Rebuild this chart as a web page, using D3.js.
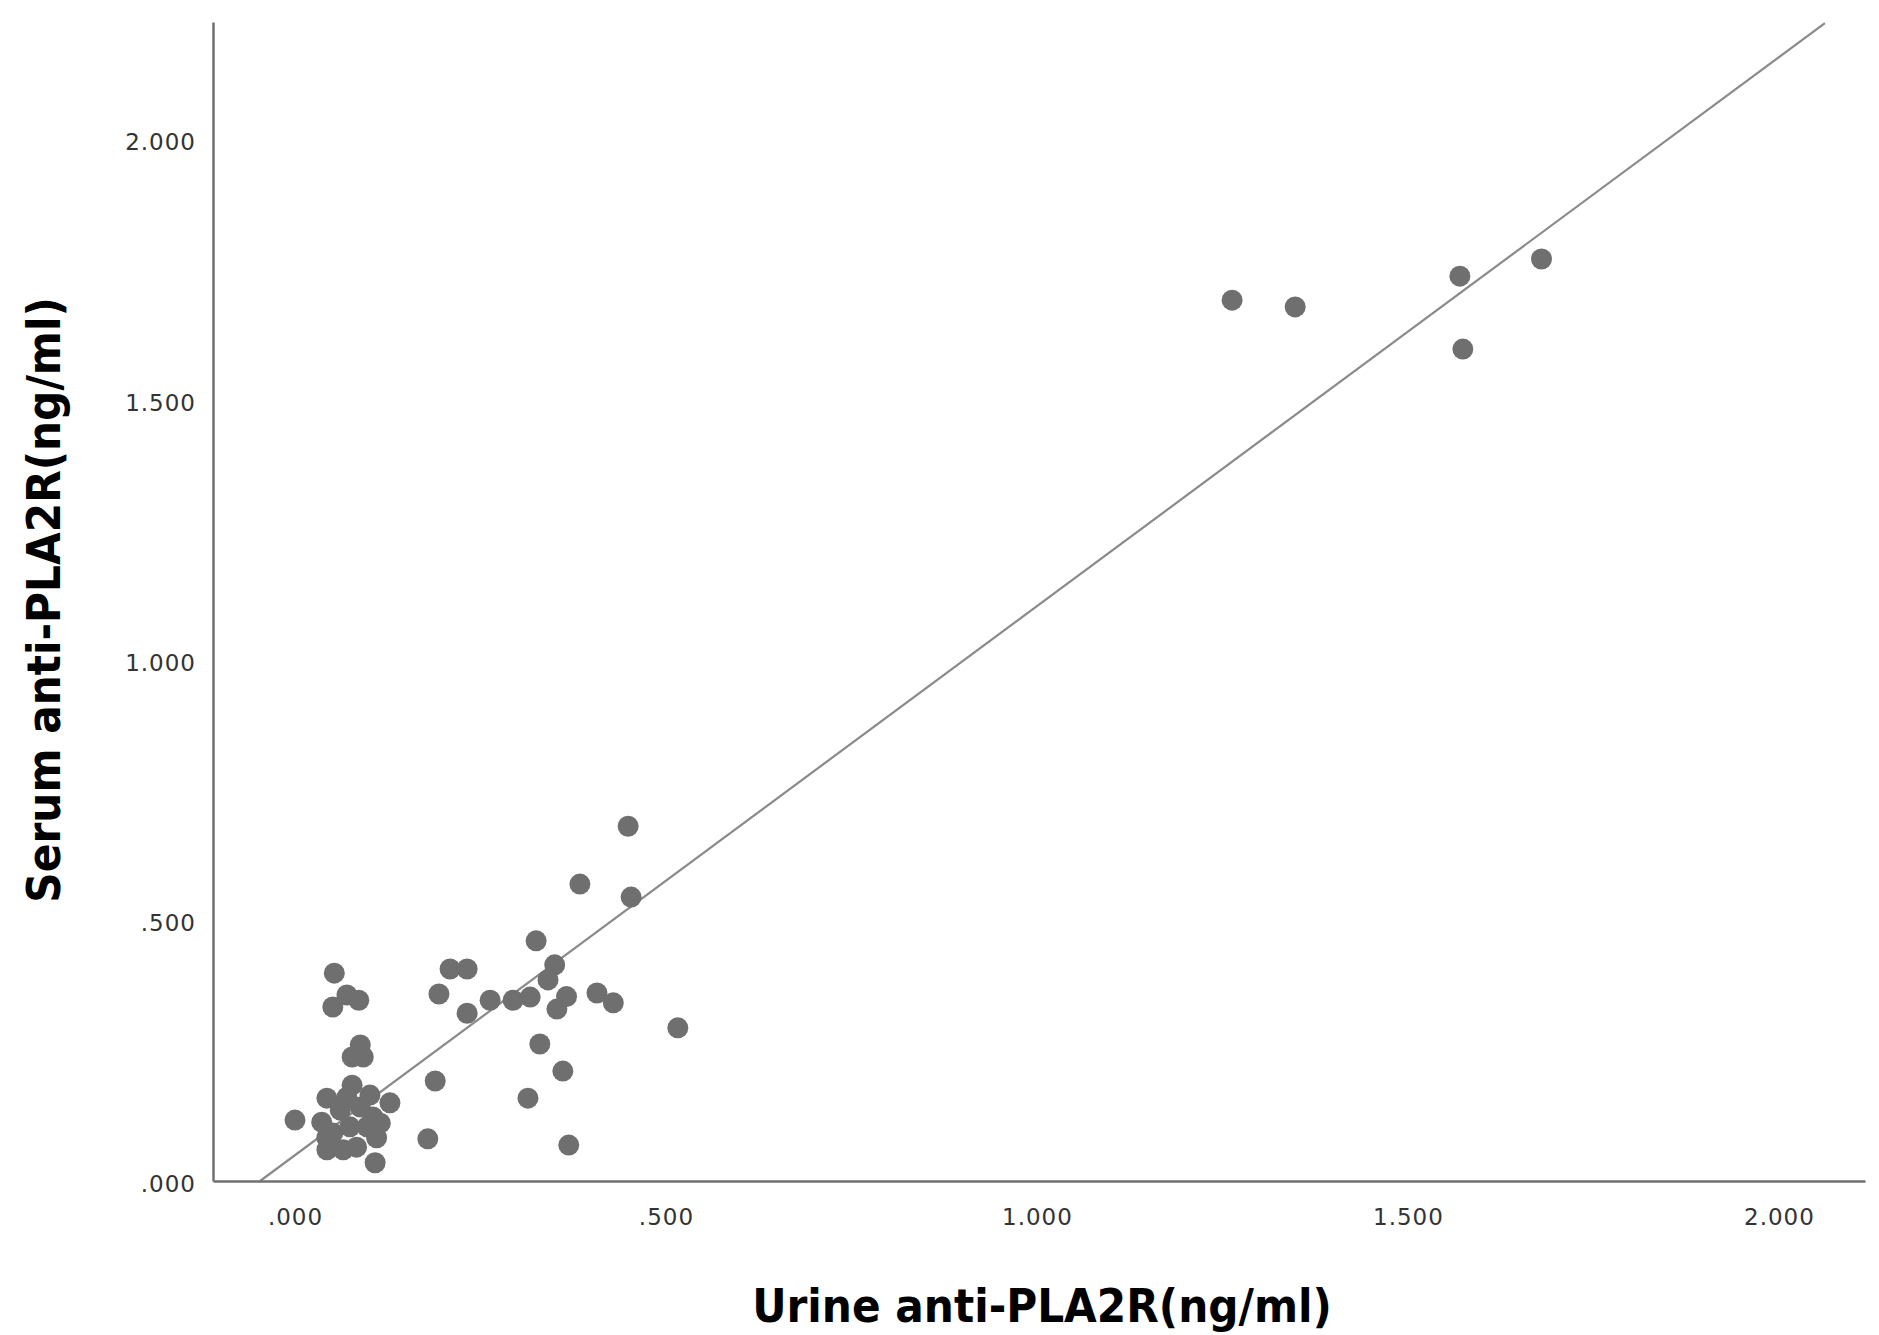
<!DOCTYPE html>
<html><head><meta charset="utf-8">
<script src="https://cdn.jsdelivr.net/npm/d3@7"></script>
<style>body{margin:0;background:#fff}</style></head>
<body><svg id="c" width="1879" height="1335"></svg>
<script>
const urineX = [1.263,1.348,1.570,1.574,1.680,0.449,0.384,0.453,0.325,0.350,0.341,0.366,0.353,0.294,0.317,0.263,0.232,0.194,0.209,0.232,0.407,0.429,0.516,0.330,0.361,0.314,0.369,0.189,0.179,0.053,0.051,0.070,0.086,0.088,0.077,0.092,0.000,0.128,0.077,0.043,0.101,0.108,0.110,0.036,0.043,0.065,0.083,0.051,0.074,0.097,0.105,0.061,0.088,0.115,0.043,0.070];
const serumY = [1.691,1.678,1.737,1.597,1.770,0.681,0.570,0.545,0.461,0.415,0.386,0.354,0.330,0.347,0.353,0.347,0.322,0.359,0.407,0.407,0.361,0.342,0.294,0.263,0.211,0.159,0.069,0.192,0.081,0.399,0.334,0.357,0.347,0.261,0.238,0.238,0.117,0.150,0.184,0.159,0.165,0.035,0.083,0.113,0.060,0.060,0.065,0.092,0.104,0.104,0.123,0.136,0.142,0.111,0.083,0.161];
const xTicks = [0,0.5,1,1.5,2];
const yTicks = [0,0.5,1,1.5,2];
const fitIntercept = 0.0496, fitSlope = 1.054;

const svg = d3.select("#c");
const L=213, R=1865, T=22, B=1181;
const x = d3.scaleLinear().domain([-0.1105,2.116]).range([L,R]);
const y = d3.scaleLinear().domain([0,2.225]).range([B,T]);
const fmt = v => d3.format(".3f")(v).replace(/^0/,"");

const x0 = -fitIntercept/fitSlope, xe = 2.062;
svg.append("line").attr("x1",x(x0)).attr("y1",y(0)).attr("x2",x(xe)).attr("y2",y(fitIntercept+fitSlope*xe))
  .attr("stroke","#8a8a8a").attr("stroke-width",2.2);

svg.append("g").selectAll("circle").data(urineX.map((v,i)=>[v,serumY[i]])).join("circle")
  .attr("cx",d=>x(d[0])).attr("cy",d=>y(d[1])).attr("r",10.5).attr("fill","#6f6f6f");

const xa = svg.append("g").attr("transform",`translate(0,${B})`).call(d3.axisBottom(x).tickValues(xTicks).tickSize(0).tickPadding(28).tickFormat(fmt));
const ya = svg.append("g").attr("transform",`translate(${L},0)`).call(d3.axisLeft(y).tickValues(yTicks).tickSize(0).tickPadding(17).tickFormat(fmt));
[xa,ya].forEach(a=>{
  a.select(".domain").attr("stroke","#707070").attr("stroke-width",2.5);
  a.selectAll("text").attr("font-family","DejaVu Sans").attr("font-size",23).attr("fill","#333").attr("letter-spacing",1);
});
ya.selectAll("text").attr("dy","0.45em");
svg.append("text").attr("x",1042).attr("y",1322).attr("text-anchor","middle")
  .attr("font-family","DejaVu Sans Condensed").attr("font-weight","bold").attr("font-size",47).attr("fill","#000")
  .text("Urine anti-PLA2R(ng/ml)");
svg.append("text").attr("transform","translate(60,600) rotate(-90)").attr("text-anchor","middle")
  .attr("font-family","DejaVu Sans Condensed").attr("font-weight","bold").attr("font-size",47).attr("fill","#000")
  .text("Serum anti-PLA2R(ng/ml)");
</script></body></html>
